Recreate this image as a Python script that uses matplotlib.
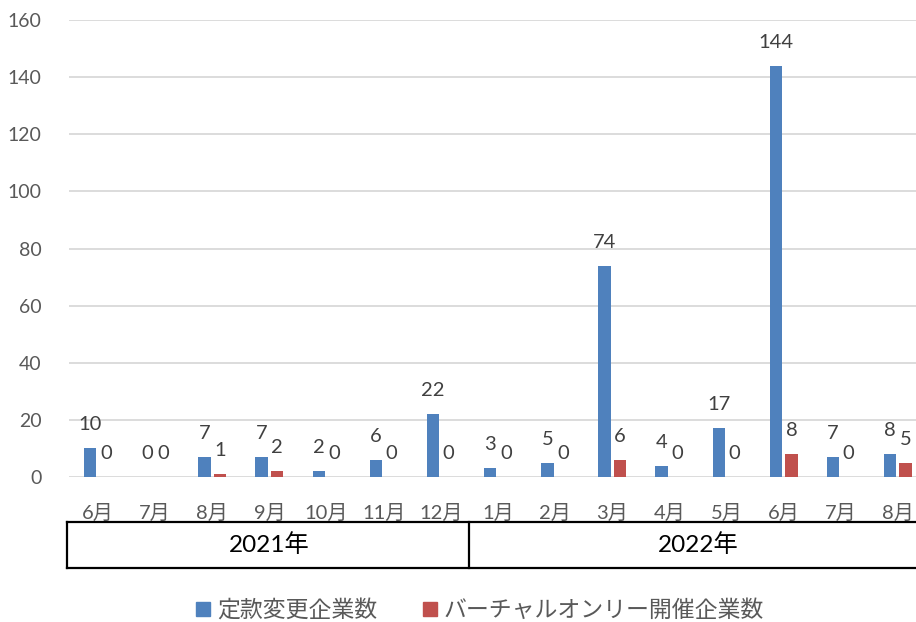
#!/usr/bin/env python3
"""Monthly count of companies changing articles / holding virtual-only meetings."""

import matplotlib

matplotlib.use("Agg")
import matplotlib.pyplot as plt
from matplotlib.lines import Line2D
from matplotlib.patches import Patch
from matplotlib.transforms import blended_transform_factory

plt.rcParams["font.family"] = ["Lato", "Noto Sans CJK JP", "DejaVu Sans"]

MONTHS = ["6月", "7月", "8月", "9月", "10月", "11月", "12月",
          "1月", "2月", "3月", "4月", "5月", "6月", "7月", "8月"]
YEARS = ["2021年", "2022年"]
YEAR_SPANS = [7, 8]
CHANGED = [10, 0, 7, 7, 2, 6, 22, 3, 5, 74, 4, 17, 144, 7, 8]
VIRTUAL = [0, 0, 1, 2, 0, 0, 0, 0, 0, 6, 0, 0, 8, 0, 5]
SERIES_NAMES = ["定款変更企業数", "バーチャルオンリー開催企業数"]

BLUE = "#4F81BD"
RED = "#C0504D"
GREY = "#595959"

W, H = 916, 622
fig = plt.figure(figsize=(W / 100, H / 100), dpi=100)
# category width is ~57.1 px; the plot area runs off the right edge like the original
cat = 57.14
left_px = 98 - 0.5 * cat
right_px = left_px + 15 * cat
ax = fig.add_axes([left_px / W, 145 / H, (right_px - left_px) / W, 457 / H])

x = list(range(len(MONTHS)))
bw = 0.219
off = 0.136
bars_a = ax.bar([i - off for i in x], CHANGED, width=bw, color=BLUE, zorder=3)
bars_b = ax.bar([i + off for i in x], VIRTUAL, width=bw, color=RED, zorder=3)

for bars, vals in ((bars_a, CHANGED), (bars_b, VIRTUAL)):
    for b, v in zip(bars, vals):
        ax.annotate(str(v), (b.get_x() + b.get_width() / 2, v),
                    xytext=(0, 13), textcoords="offset points",
                    ha="center", va="baseline", fontsize=14.5, color="#404040")

ax.set_xlim(-0.5, len(MONTHS) - 0.5)
ax.set_ylim(0, 160)
ax.set_yticks(range(0, 161, 20))
ax.grid(axis="y", color="#D9D9D9", linewidth=1.3, zorder=0)
for s in ax.spines.values():
    s.set_visible(False)
ax.tick_params(axis="y", length=0, pad=20, labelsize=14, labelcolor=GREY)
ax.set_xticks(x, MONTHS)
ax.tick_params(axis="x", length=0, pad=19, labelsize=14.5, labelcolor=GREY)

# year box under the month labels
tr = blended_transform_factory(ax.transData, ax.transAxes)
top, bot = -45 / 457, -91 / 457
x0 = -0.5 - 2.4 / cat
x1 = len(MONTHS) - 0.5
lw = 1.6
for y in (top, bot):
    ax.add_line(Line2D([x0, x1], [y, y], transform=tr, color="black",
                       lw=lw, clip_on=False))
start = -0.5
ax.add_line(Line2D([x0, x0], [top, bot], transform=tr, color="black",
                   lw=lw, clip_on=False))
for name, span in zip(YEARS, YEAR_SPANS):
    end = start + span
    ax.add_line(Line2D([end, end], [top, bot], transform=tr, color="black",
                       lw=lw, clip_on=False))
    ax.text((start + end) / 2, (top + bot) / 2, name, transform=tr,
            ha="center", va="center", fontsize=17.5, color="black")
    start = end

handles = [Patch(color=BLUE), Patch(color=RED)]
fig.legend(handles, SERIES_NAMES, loc="center", bbox_to_anchor=(480 / W, 12 / H),
           ncol=2, frameon=False, fontsize=16.5, labelcolor=GREY,
           handlelength=0.6, handleheight=0.6, handletextpad=0.3,
           columnspacing=2.0)

fig.savefig("out.png", dpi=100)
